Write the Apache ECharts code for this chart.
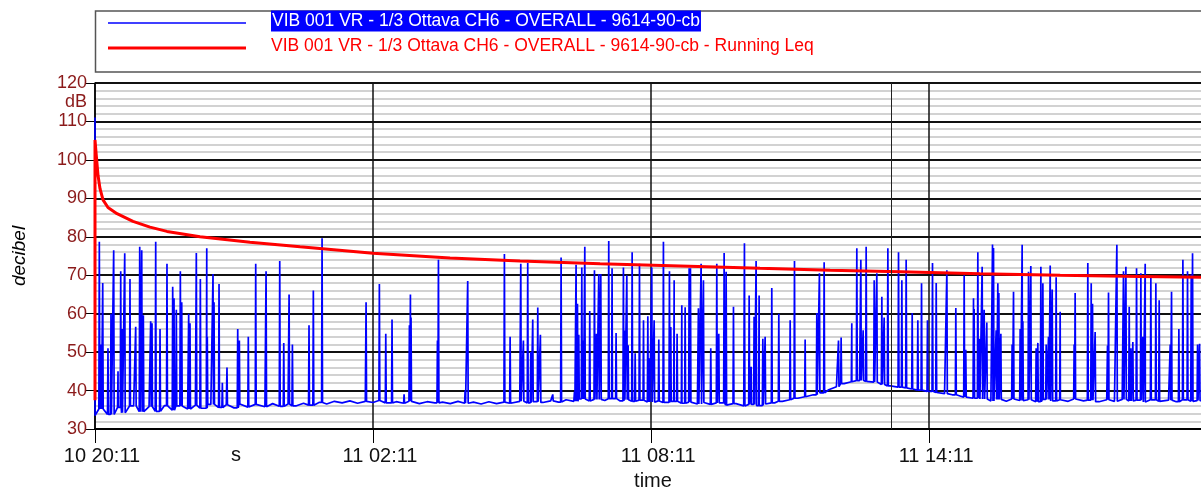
<!DOCTYPE html>
<html><head><meta charset="utf-8">
<script src="https://cdn.jsdelivr.net/npm/echarts@6/dist/echarts.min.js"></script>
<style>html,body{margin:0;padding:0;background:#fff}#c{width:1201px;height:491px}</style>
</head><body><div id="c"></div>
<script>
// ---- data ----
const seriesNames = [
  'VIB 001 VR - 1/3 Ottava CH6 - OVERALL - 9614-90-cb',
  'VIB 001 VR - 1/3 Ottava CH6 - OVERALL - 9614-90-cb - Running Leq'
];
const xTickLabels = ['10 20:11', '11 02:11', '11 08:11', '11 14:11'];
const xTickStepMin = 360;      // 6 h between labelled ticks
const xMaxMin = 1445;          // minutes after 10 20:11 at right edge
const cursorMin = 1031;        // vertical cursor line
const yTickLabels = [30, 40, 50, 60, 70, 80, 90, 100, 110, 120];

// background level of the blue trace, one value every 10 min from 10 20:11
const baselineStepMin = 10;
const baselineDb = [
  33.5, 35.2, 33.8, 35.6, 34.2, 36.0, 34.5, 35.8, 34.6, 36.1, 34.9, 36.0, 35.2,
  36.2, 35.4, 36.4, 35.6, 36.3, 35.5, 36.5, 35.7, 36.4, 35.8, 36.6, 35.9, 36.5, 36.0, 36.7, 36.2, 36.9, 36.5,
  37.2, 36.8, 37.3, 36.7, 37.2, 36.9, 37.4, 36.8, 37.1, 36.7, 37.2, 36.6, 37.1, 36.8, 37.0, 36.6, 37.2, 36.7, 37.0, 36.5,
  37.1, 36.6, 37.0, 36.7, 37.2, 36.8, 37.1, 36.9, 37.3, 37.0,
  37.6, 37.2, 37.8, 37.3, 37.7, 37.4, 37.9, 37.3, 37.6, 37.2, 37.5, 37.0, 37.3, 36.9, 37.2, 36.7, 37.0, 36.5,
  36.9, 36.4, 36.8, 36.2, 36.6, 36.0, 36.4, 36.1, 36.5, 36.8,
  37.2, 37.6, 38.0, 38.4, 38.9, 39.4, 40.2, 41.0, 41.8, 42.3, 42.6, 42.4, 42.2, 41.6, 41.2, 40.9, 40.7, 40.4,
  40.1, 39.8, 39.5, 39.2, 38.9, 38.6, 38.3, 38.0,
  37.8, 37.3, 37.7, 37.2, 37.8, 37.4, 37.6, 37.1, 37.7, 37.3, 37.6, 37.2, 37.8, 37.3, 37.5, 37.1, 37.6, 37.2,
  37.7, 37.3, 37.5, 37.0, 37.6, 37.2, 37.5, 37.1, 37.6, 37.2, 37.4, 37.3
];
const startPeakDb = 111;

// spikes of the blue trace: [minutes after 10 20:11, peak dB]
const spikes = [
  [5.6,78.7],[7.8,52],[10,68],[16.8,51],[20.7,60],[24.2,76.5],[29.8,45],[33.3,71],[35,56],[38.5,75.7],
  [45.3,69],[52.7,56.6],[57.9,77.4],[60.5,76.5],[62.6,59.6],[72.1,58],[73.8,57.5],[78.6,78.7],[84.2,56],[93.2,73],
  [100.6,67],[102.3,64],[105.3,61],[110.5,71],[112.3,63],[121.3,60],[123,57.5],[131.2,75.8],[136.4,69],[144.7,77],
  [145.4,54],[152.8,70.3],[154.1,63],[160.6,67.7],[164.9,42],[170.9,46],[184.8,56],[186.9,53],[198.5,54],[208.1,73],
  [221.5,71],[239.2,73.7],[244.4,52.4],[251.3,65],[255.6,52],[277.1,57],[282.7,66],[294,79.6],[351,63],[368.2,67.7],
  [376.5,54.8],[384.6,58.5],[400.2,39],[407.1,57],[408.4,65],[409.2,59],[443.4,53],[444.7,74],[479.2,40],[482.6,68.5],
  [530.1,75.5],[537.5,54],[551.3,73],[554.7,53],[560.3,73.2],[564.2,50],[566.8,58.5],[573.3,61.6],[576.7,54.5],[592.7,39],
  [603.5,74.6],[620.8,39.7],[622.9,72.7],[624.7,62.6],[626.4,54.5],[630.3,72],[632,53],[634.2,77.4],[640.6,60.7],[646.7,71.3],
  [649.3,54.8],[652.3,70.3],[654.9,70.3],[665.2,78.9],[669.5,71.8],[674.7,55],[684.2,72],[685.5,55.6],[688.6,70],[690.3,51.8],
  [695.5,76],[699.4,49.7],[705,73],[710.2,58.3],[715.8,59.3],[717.9,48.4],[720.9,72],[724,58.3],[730,53.3],[736,78.7],
  [743.8,71],[745.5,56.5],[749.9,68.7],[753.7,54.8],[759.8,62.2],[764.1,61.7],[769.3,71.8],[771,71.8],[781.3,61.4],[784.8,73],
  [787.8,68.7],[797.3,51],[805.1,73],[807.7,54.8],[814.6,75.8],[817.2,70.9],[826.7,61.8],[840.9,78.3],[847,64.7],[849.6,46.2],
  [853.4,59.2],[856,73.7],[859.9,64.7],[864.7,53.5],[867.7,54],[876.3,66.7],[885.4,60],[900.1,58.3],[905.7,73.7],[919.5,53.3],
  [934.6,60.2],[938,70.5],[944.1,73.4],[962.7,53],[966.1,53.8],[979.9,57.5],[986.4,77],[991.6,74],[994.6,55.7],[998.5,77.4],
  [1008.9,68.7],[1012.3,70.5],[1018.8,64.4],[1021.8,59],[1026.6,77],[1040.4,76],[1044.7,68.7],[1050.3,74],[1058.1,60.2],[1065.4,58.3],
  [1070.2,67.9],[1077.9,58.3],[1084.4,73.2],[1089.2,68],[1103,71.3],[1114.6,61.5],[1125.4,70],[1127.5,50.6],[1137.5,64],[1138.3,61.2],
  [1143.1,76],[1145.2,53.5],[1148.7,72.2],[1151.3,61],[1154.7,57.7],[1162.1,78],[1163.4,77.1],[1166.8,55.7],[1169,67.9],[1170.3,65.4],
  [1172.9,54.8],[1187.5,52],[1189.3,65.7],[1197.9,56],[1200.5,77.9],[1201.4,58],[1208.7,70.9],[1211.7,72.4],[1218.6,51],[1220.8,52.4],
  [1224.7,72.2],[1227.3,67.9],[1231.6,52],[1234.6,54],[1236.8,72.5],[1239.4,66.3],[1244.5,69.5],[1249.7,60.5],[1267.8,52],[1269.1,65.4],
  [1285.5,73.2],[1289.9,67.9],[1291.6,62.6],[1295,55.2],[1311,51.7],[1312.3,65.5],[1323.1,77.9],[1331.7,71],[1334.8,72.2],[1339.1,61.8],
  [1341.2,51],[1343.8,52.6],[1348.6,71.8],[1354.2,70.5],[1356.8,54],[1359.8,73],[1367.1,69.4],[1373.6,67.9],[1377.9,63.5],[1392.2,52],
  [1393.9,65.7],[1403.4,56],[1408.6,74],[1414.6,71],[1419.4,70.2],[1421.1,75.7],[1427.6,52],[1430.2,52.2]
];

// running Leq (red): [minutes after 10 20:11, dB]
const leqMin = [0, 0, 1.3, 3.9, 6.5, 10.4, 16.8, 28.5, 49.2, 71.2, 93.2, 136, 200.7, 265.5, 360, 459.7, 550.4, 654, 757.6, 861, 951.8, 1042.5, 1146, 1249.7, 1353.3, 1445];
const leqDb  = [37.5, 105.2, 102, 96, 92.5, 89.6, 87.6, 86, 84, 82.5, 81.4, 80, 78.6, 77.4, 75.7, 74.5, 73.7, 73, 72.4, 71.8, 71.3, 70.9, 70.4, 70.0, 69.7, 69.4];

// ---- build series ----
const bluePts = [[0, startPeakDb]];
baselineDb.forEach((v, i) => bluePts.push([i * baselineStepMin, v]));
spikes.forEach(([t, p]) => {
  const b = baselineDb[Math.min(baselineDb.length - 1, Math.round(t / baselineStepMin))];
  bluePts.push([t - 0.6, b], [t, p], [t + 0.6, b]);
});
bluePts.sort((a, b) => a[0] - b[0]);
const redPts = leqMin.map((t, i) => [t, leqDb[i]]);

const SANS = "'Liberation Sans',Arial,sans-serif";

const chart = echarts.init(document.getElementById('c'), null, {renderer: 'canvas'});
chart.setOption({
  animation: false,
  backgroundColor: '#fff',
  grid: {left: 95, top: 83, right: -10, bottom: 62, containLabel: false, outerBoundsMode: 'none'},
  xAxis: {
    type: 'value', min: 0, max: xMaxMin, interval: xTickStepMin,
    name: 'time', nameLocation: 'middle', nameGap: 42,
    nameTextStyle: {color: '#111', fontSize: 20, fontFamily: SANS},
    axisLine: {show: true, lineStyle: {color: '#000', width: 2}},
    axisTick: {show: true, length: 14, lineStyle: {color: '#000', width: 1}},
    axisLabel: {
      color: '#111', fontSize: 20, fontFamily: SANS, margin: 17, padding: [0, 0, 0, 14],
      formatter: v => (v % xTickStepMin === 0 && v / xTickStepMin < xTickLabels.length) ? xTickLabels[v / xTickStepMin] : ''
    },
    splitLine: {show: true, lineStyle: {color: '#111', width: 1.5}}
  },
  yAxis: {
    type: 'value', min: 30, max: 120, interval: 10,
    name: 'decibel', nameLocation: 'middle', nameGap: 66,
    nameTextStyle: {color: '#000', fontSize: 19, fontStyle: 'italic', fontFamily: SANS},
    axisLine: {show: true, lineStyle: {color: '#000', width: 1.5}},
    axisTick: {show: true, length: 10, lineStyle: {color: '#000', width: 1}},
    axisLabel: {color: '#8b1a1a', fontSize: 18, fontFamily: SANS, margin: 8,
      formatter: v => yTickLabels.includes(v) ? String(v) : ''},
    splitLine: {show: true, lineStyle: {color: '#111', width: 2}},
    minorTick: {show: false, splitNumber: 5},
    minorSplitLine: {show: true, lineStyle: {color: '#c4c4c4', width: 1.5}}
  },
  series: [
    {
      name: seriesNames[0], type: 'line', data: bluePts, showSymbol: false, symbol: 'none',
      lineStyle: {color: '#0000ff', width: 1.7}, z: 2,
      markLine: {silent: true, symbol: 'none', label: {show: false},
        lineStyle: {color: '#222', width: 1, type: 'solid'}, data: [{xAxis: cursorMin}]}
    },
    {
      name: seriesNames[1], type: 'line', data: redPts, showSymbol: false, symbol: 'none',
      lineStyle: {color: '#ff0000', width: 3}, z: 3
    }
  ],
  graphic: [
    {type: 'rect', shape: {x: 95.5, y: 11, width: 1130, height: 61}, style: {fill: '#fff', stroke: '#555', lineWidth: 1.5}, z: 10},
    {type: 'line', shape: {x1: 108, y1: 23, x2: 246, y2: 23}, style: {stroke: '#0000ff', lineWidth: 1.5}, z: 11},
    {type: 'line', shape: {x1: 108, y1: 48, x2: 246, y2: 48}, style: {stroke: '#ff0000', lineWidth: 3}, z: 11},
    {type: 'text', x: 271, y: 21, z: 11, style: {text: seriesNames[0], fill: '#fff', backgroundColor: '#0000ff',
      padding: [2, 1, 1, 1], font: '17.5px ' + SANS, verticalAlign: 'middle', align: 'left'}},
    {type: 'text', x: 271, y: 46, z: 11, style: {text: seriesNames[1], fill: '#ff0000',
      font: '17.5px ' + SANS, verticalAlign: 'middle', align: 'left'}},
    {type: 'text', x: 87, y: 102, z: 11, style: {text: 'dB', fill: '#8b1a1a', font: '18px ' + SANS, verticalAlign: 'middle', align: 'right'}},
    {type: 'text', x: 236, y: 455, z: 11, style: {text: 's', fill: '#111', font: '20px ' + SANS, verticalAlign: 'middle', align: 'center'}}
  ]
});
</script>
</body></html>
